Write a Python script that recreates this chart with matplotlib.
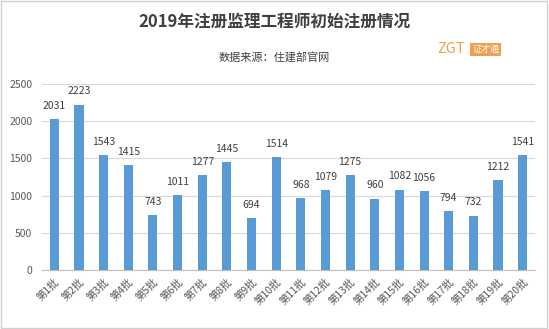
import matplotlib.pyplot as plt
from matplotlib.patches import Rectangle

plt.rcParams['font.family'] = ['Noto Sans CJK SC', 'DejaVu Sans']

batches = ['第%d批' % i for i in range(1, 21)]
counts = [2031, 2223, 1543, 1415, 743, 1011, 1277, 1445, 694, 1514,
          968, 1079, 1275, 960, 1082, 1056, 794, 732, 1212, 1541]
yticks = [0, 500, 1000, 1500, 2000, 2500]

fig = plt.figure(figsize=(5.49, 3.29), dpi=100)
ax = fig.add_axes([0.0765, 0.1793, 0.898, 0.5654])

x = range(len(batches))
ax.bar(x, counts, width=0.37, color='#5b9bd5', zorder=3)
for i, v in enumerate(counts):
    ax.text(i, v + 110, str(v), ha='center', va='bottom', fontsize=7.5, color='#404040', clip_on=False)

ax.set_xlim(-0.5, len(batches) - 0.5)
ax.set_ylim(0, 2500)
ax.set_yticks(yticks)
ax.set_yticklabels([str(t) for t in yticks], fontsize=7.5, color='#595959')
ax.set_xticks(list(x))
ax.set_xticklabels(batches, rotation=45, ha='right', rotation_mode='anchor', fontsize=7.5, color='#595959')
ax.tick_params(axis='y', length=0, pad=7)
ax.tick_params(axis='x', length=0, pad=5)
ax.grid(axis='y', color='#d9d9d9', lw=0.8, zorder=0)
for s in ['top', 'right', 'left']:
    ax.spines[s].set_visible(False)
ax.spines['bottom'].set_color('#bfbfbf')

fig.text(0.5, 0.935, '2019年注册监理工程师初始注册情况', ha='center', va='center',
         fontsize=12, fontweight='bold', color='#404040')
fig.text(0.5, 0.825, '数据来源：住建部官网', ha='center', va='center', fontsize=8, color='#404040')
fig.text(0.797, 0.85, 'ZGT', ha='left', va='center', fontsize=10.5, color='#f0a050')
fig.text(0.86, 0.85, '证才通', ha='left', va='center', fontsize=6.5, color='white',
         bbox=dict(boxstyle='square,pad=0.2', fc='#f0a050', ec='none'))

fig.patches.append(Rectangle((0.002, 0.003), 0.995, 0.993, transform=fig.transFigure,
                             fill=False, ec='#d0d0d0', lw=1))
fig.savefig('out.png', dpi=100)
